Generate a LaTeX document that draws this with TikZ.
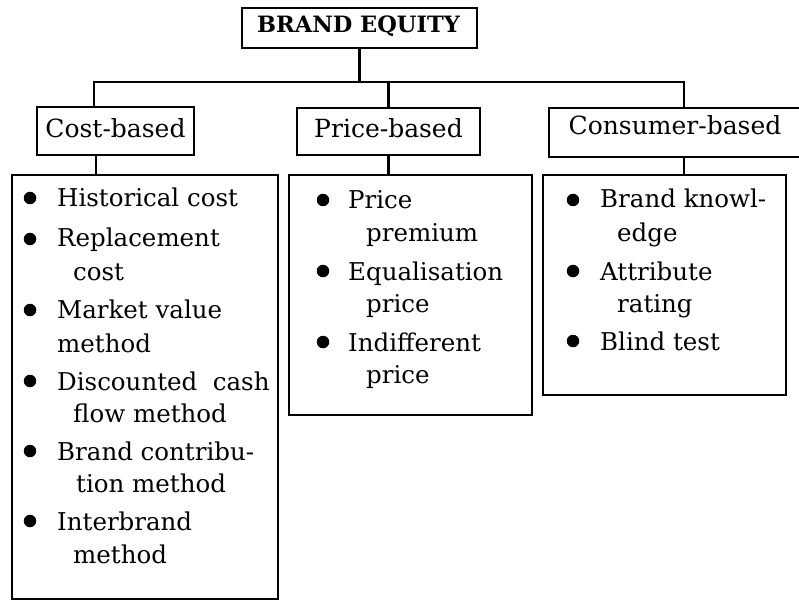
\documentclass[tikz,border=0pt]{standalone}
\usepackage{fontspec}
\setmainfont{DejaVu Serif}
\begin{document}
\begin{tikzpicture}[x=1pt,y=-1pt,
  box/.style={draw,line width=2.5pt,rectangle,inner sep=0pt,outer sep=0pt},
  txt/.style={anchor=base west,inner sep=0pt,font=\fontsize{24.5}{28}\selectfont},
  head/.style={anchor=base,inner sep=0pt,font=\fontsize{25}{29}\selectfont},
  bul/.style={circle,fill=black,inner sep=0pt,minimum size=12.5pt},
  link/.style={line width=2.5pt}]
\useasboundingbox (0,0) rectangle (799,601);
% boxes
\node[box,minimum width=235pt,minimum height=40pt] (be) at (359.5,28) {};
\node[box,minimum width=157pt,minimum height=48pt] (cost) at (115.5,131) {};
\node[box,minimum width=183pt,minimum height=47pt] (price) at (388.5,131.5) {};
\node[box,minimum width=252pt,minimum height=49pt] (cons) at (675,132.5) {};
\node[box,minimum width=266pt,minimum height=424pt] (costlist) at (145,387) {};
\node[box,minimum width=243pt,minimum height=240pt] (pricelist) at (410.5,295) {};
\node[box,minimum width=243pt,minimum height=220pt] (conslist) at (664.5,285) {};
% headings
\node[head,font=\fontsize{22.5}{26}\selectfont\bfseries] (bet) at (358.5,33) {BRAND EQUITY};
\node[head] (costt) at (115.5,138) {Cost-based};
\node[head] (pricet) at (388.5,138) {Price-based};
\node[head] (const) at (675,135) {Consumer-based};
% connectors
\coordinate (jl) at (94,82);
\coordinate (jr) at (684,82);
\draw[link] (be.south) -- (be.south |- jl);
\draw[link] (cost.north -| jl) -- (jl) -- (jr) -- (cons.north -| jr);
\draw[link] (price.north) -- (price.north |- jl);
\coordinate (d1) at (96,0);
\draw[link] (cost.south -| d1) -- (costlist.north -| d1);
\draw[link] (price.south) -- (pricelist.north -| price.south);
\draw[link] (cons.south -| jr) -- (conslist.north -| jr);
% cost list
\node[bul] (cb1) at (30,198) {};
\node[txt] (c1) at (57,207) {Historical cost};
\node[bul] (cb2) at (30,239) {};
\node[txt] (c2) at (57,247) {Replacement};
\node[txt] (c2b) at (73,280) {cost};
\node[bul] (cb3) at (30,310) {};
\node[txt] (c3) at (57,318) {Market value};
\node[txt] (c3b) at (57,352) {method};
\node[bul] (cb4) at (30,381) {};
\node[txt] (c4) at (57,390) {Discounted\ \ cash};
\node[txt] (c4b) at (73,422) {flow method};
\node[bul] (cb5) at (30,451) {};
\node[txt] (c5) at (57,460) {Brand contribu-};
\node[txt] (c5b) at (76,492) {tion method};
\node[bul] (cb6) at (30,521) {};
\node[txt] (c6) at (57,530) {Interbrand};
\node[txt] (c6b) at (73,563) {method};
% price list
\node[bul] (pb1) at (323,200) {};
\node[txt] (p1) at (348,209) {Price};
\node[txt] (p1b) at (366,242) {premium};
\node[bul] (pb2) at (323,271) {};
\node[txt] (p2) at (348,280) {Equalisation};
\node[txt] (p2b) at (366,312) {price};
\node[bul] (pb3) at (323,342) {};
\node[txt] (p3) at (348,351) {Indifferent};
\node[txt] (p3b) at (366,383) {price};
% consumer list
\node[bul] (nb1) at (573,200) {};
\node[txt] (n1) at (600,208) {Brand knowl-};
\node[txt] (n1b) at (617,242) {edge};
\node[bul] (nb2) at (573,271) {};
\node[txt] (n2) at (600,280) {Attribute};
\node[txt] (n2b) at (617,312) {rating};
\node[bul] (nb3) at (573,341) {};
\node[txt] (n3) at (600,350) {Blind test};
\end{tikzpicture}
\end{document}
